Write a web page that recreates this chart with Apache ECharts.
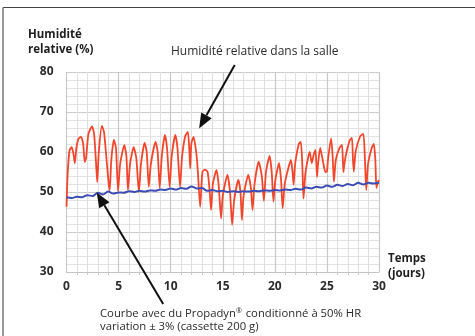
<!DOCTYPE html>
<html>
<head>
<meta charset="utf-8">
<script src="https://cdn.jsdelivr.net/npm/echarts@6/dist/echarts.min.js"></script>
<style>
  html, body { margin: 0; padding: 0; background: #fff; }
  #chart { width: 475px; height: 336px; }
</style>
</head>
<body>
<div id="chart"></div>
<script>
// Relative humidity in the room (red), sampled through the month
const roomDays = [0,0.12,0.3,0.5,0.7,0.8,0.95,1.15,1.4,1.6,1.75,1.88,2.1,2.45,2.65,2.82,2.95,3.1,3.4,3.6,3.85,4.05,4.15,4.3,4.55,4.75,4.95,5.15,5.55,5.75,5.9,6.1,6.45,6.7,6.95,7.15,7.5,7.7,7.9,8.1,8.55,8.75,8.95,9.15,9.45,9.65,9.9,10.1,10.45,10.65,10.9,11.1,11.4,11.65,11.8,11.88,11.98,12.2,12.45,12.6,12.83,13.05,13.3,13.55,13.75,13.88,14.05,14.4,14.6,14.84,15.0,15.45,15.7,15.9,16.1,16.5,16.7,16.84,17.0,17.45,17.7,17.86,18.05,18.45,18.75,18.95,19.15,19.5,19.7,19.87,20.05,20.4,20.6,20.75,20.95,21.3,21.55,21.7,21.8,21.95,22.3,22.5,22.65,22.75,22.95,23.35,23.55,23.7,23.9,24.05,24.15,24.35,24.6,24.85,25.0,25.1,25.4,25.55,25.67,25.85,26.2,26.45,26.58,26.62,26.8,27.2,27.4,27.5,27.58,27.75,28.2,28.5,28.65,28.78,28.95,29.3,29.5,29.65,29.75,29.9,30];
const roomHumidity = [46.3,55,60.5,61.2,59,57.2,61,63.3,63.8,62,57.5,58.5,64.5,66.4,64.5,58,52.5,60,66.5,65,58,52,50.5,58,63,61,50.2,57,61.7,59,50.5,57,61.2,58.5,50,57,62.3,60,51.3,57,62.5,60,51,59,64.3,61,51.3,59,64.3,61,51.3,59,64,65,60,55.9,62,63.8,60,55.5,46.3,55.1,55.6,55,50,45.5,52,55.5,52,43.4,49,54.3,50,41.8,48,53,50,43,49,54.3,51,45.5,52,57.6,54,47.8,55,59,55,47.6,53,57.2,53,45.9,52,56,58,55,51.8,57,62,62.5,56,48.4,55,60,57.2,59,60.5,53.8,57,61,58,55,55.1,58,63.4,59,52.6,58,61,61.8,55,55.1,59,63,63.5,58,55.1,60,64,64.5,58,50.5,57,61,62,58,51,52.6,53];

// With Propadyn conditioned at 50% RH (blue), every half day
const propadynDays = [0,0.5,1,1.5,2,2.5,3,3.5,4,4.5,5,5.5,6,6.5,7,7.5,8,8.5,9,9.5,10,10.5,11,11.5,12,12.5,13,13.5,14,14.5,15,15.5,16,16.5,17,17.5,18,18.5,19,19.5,20,20.5,21,21.5,22,22.5,23,23.5,24,24.5,25,25.5,26,26.5,27,27.5,28,28.5,29,29.5,30];
const propadynHumidity = [48.7,48.5,48.8,48.7,49.2,49.0,49.8,49.4,50.1,49.6,49.9,49.8,50.2,50.0,50.3,50.1,50.4,50.3,50.6,50.5,50.9,50.6,51.0,50.8,51.4,50.9,51.0,50.3,50.5,50.2,50.3,50.0,50.2,50.0,50.2,50.1,50.3,50.2,50.4,50.3,50.5,50.4,50.6,50.5,50.8,50.6,51.1,50.9,51.3,51.1,51.6,51.3,51.8,51.5,52.0,51.7,52.3,51.9,52.3,52.1,52.3];

// Axis ranges and ticks
const xMin = 0, xMax = 30, xStep = 5;
const yMin = 30, yMax = 80, yStep = 10;

const roomSeries = roomDays.map((d, i) => [d, roomHumidity[i]]);
const propadynSeries = propadynDays.map((d, i) => [d, propadynHumidity[i]]);

const chart = echarts.init(document.getElementById('chart'), null, { renderer: 'canvas' });

const tickFont = { fontFamily: 'Open Sans', fontWeight: 'bold', fontSize: 12, color: '#2b2b2b' };
const textFont = { fontFamily: 'Open Sans', fontSize: 12, fill: '#2b2b2b' };
const noteFont = { fontFamily: 'Open Sans', fontSize: 11.3, fill: '#2b2b2b' };
const boldFont = { fontFamily: 'Open Sans', fontWeight: 'bold', fontSize: 11.5, fill: '#1e1e1e' };

chart.setOption({
  animation: false,
  backgroundColor: '#fff',
  grid: { left: 66.5, right: 96, top: 72, bottom: 64, containLabel: false },
  xAxis: {
    type: 'value', min: xMin, max: xMax, interval: xStep,
    axisLine: { show: true, lineStyle: { color: '#c4c4c4', width: 1 } },
    axisTick: { show: false },
    minorTick: { show: true, splitNumber: 5, length: 3, lineStyle: { color: '#c4c4c4' } },
    axisLabel: Object.assign({ margin: 9 }, tickFont),
    splitLine: { show: true, lineStyle: { color: '#c8c8c8', width: 1.2 } },
    minorSplitLine: { show: true, lineStyle: { color: '#e0e0e0', width: 1 } }
  },
  yAxis: {
    type: 'value', min: yMin, max: yMax, interval: yStep,
    axisLine: { show: false },
    axisTick: { show: false },
    minorTick: { show: false, splitNumber: 5 },
    axisLabel: Object.assign({ margin: 13 }, tickFont),
    splitLine: { show: true, lineStyle: { color: '#cdcdcd', width: 1.2 } },
    minorSplitLine: { show: true, lineStyle: { color: '#e3e3e3', width: 1 } }
  },
  series: [
    {
      name: 'Humidité relative dans la salle',
      type: 'line', data: roomSeries, showSymbol: false, smooth: 0.2,
      lineStyle: { color: '#f2462c', width: 1.8 }, z: 3
    },
    {
      name: 'Propadyn',
      type: 'line', data: propadynSeries, showSymbol: false, smooth: 0.3,
      lineStyle: { color: '#3c4cb4', width: 2 }, z: 4
    }
  ]
});

// Arrow from a tail point to a tip point, both in data coordinates
function arrow(tail, tip) {
  const a = chart.convertToPixel({ gridIndex: 0 }, tail);
  const b = chart.convertToPixel({ gridIndex: 0 }, tip);
  const dx = b[0] - a[0], dy = b[1] - a[1];
  const len = Math.hypot(dx, dy);
  const ux = dx / len, uy = dy / len;
  const headLen = 15, headW = 6;
  const bx = b[0] - ux * headLen, by = b[1] - uy * headLen;
  return [
    { type: 'line', shape: { x1: a[0], y1: a[1], x2: bx, y2: by },
      style: { stroke: '#111', lineWidth: 2 }, z: 10 },
    { type: 'polygon', shape: { points: [
        [b[0], b[1]],
        [bx - uy * headW, by + ux * headW],
        [bx + uy * headW, by - ux * headW]
      ] }, style: { fill: '#111' }, z: 10 }
  ];
}

chart.setOption({
  graphic: [
    // frame
    { type: 'line', shape: { x1: 3, y1: 7.5, x2: 475, y2: 7.5 }, style: { stroke: '#444', lineWidth: 1.2 } },
    { type: 'line', shape: { x1: 3, y1: 7.5, x2: 3, y2: 336 }, style: { stroke: '#777', lineWidth: 1.5 } },
    // axis titles
    { type: 'text', left: 28, top: 27, style: Object.assign({ text: 'Humidité\nrelative (%)', lineHeight: 15 }, boldFont) },
    { type: 'text', left: 388, top: 251, style: Object.assign({ text: 'Temps\n(jours)', lineHeight: 15 }, boldFont) },
    // annotations
    { type: 'text', left: 171, top: 46, style: Object.assign({ text: 'Humidité relative dans la salle' }, textFont) },
    { type: 'text', left: 100, top: 307, style: Object.assign({
        text: 'Courbe avec du Propadyn{sup|®} conditionné à 50% HR\nvariation ± 3% (cassette 200 g)',
        lineHeight: 13.5,
        rich: { sup: { fontFamily: 'Open Sans', fontSize: 7, fill: '#2b2b2b', verticalAlign: 'top', padding: [0, 1, 6, 0] } }
      }, noteFont) }
  ].concat(arrow([16.15, 81.75], [12.73, 65.9]))
   .concat(arrow([9.28, 22.0], [2.9, 49.9]))
});
</script>
</body>
</html>
